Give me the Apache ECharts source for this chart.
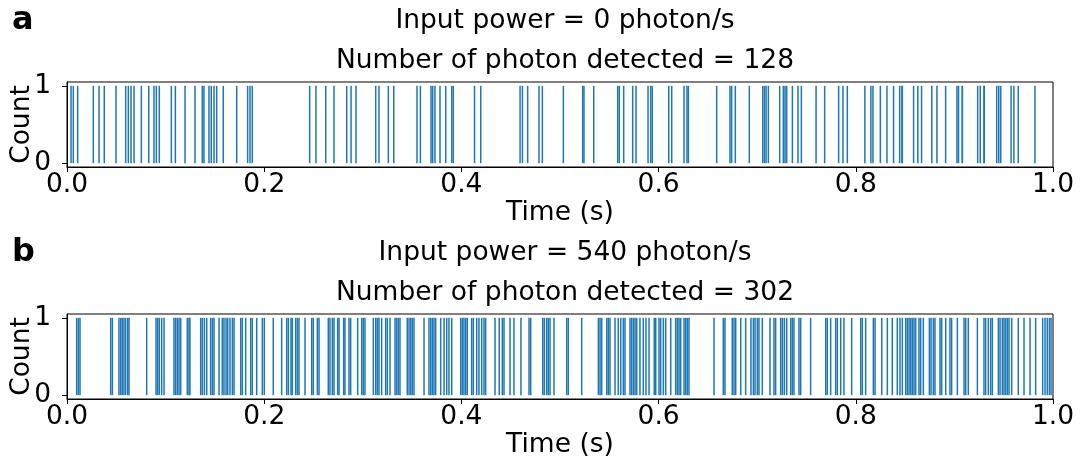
<!DOCTYPE html>
<html>
<head>
<meta charset="utf-8">
<script src="https://cdn.jsdelivr.net/npm/echarts@6/dist/echarts.min.js"></script>
<style>
  html, body { margin: 0; padding: 0; background: #fff; }
  #chart { width: 1083px; height: 464px; }
</style>
</head>
<body>
<div id="chart"></div>
<script>
// photon arrival times (s)
var timesA = [
    0.0041, 0.0064, 0.0108, 0.0267, 0.0325, 0.0378, 0.0497, 0.0595, 0.0622, 0.0649,
    0.0680, 0.0754, 0.0829, 0.0882, 0.0906, 0.0936, 0.1058, 0.1099, 0.1197, 0.1298,
    0.1372, 0.1389, 0.1440, 0.1463, 0.1491, 0.1518, 0.1585, 0.1721, 0.1832, 0.1856,
    0.1879, 0.2461, 0.2525, 0.2624, 0.2708, 0.2837, 0.2881, 0.2931, 0.3131, 0.3164,
    0.3259, 0.3314, 0.3550, 0.3584, 0.3692, 0.3709, 0.3732, 0.3783, 0.3841, 0.3902,
    0.3918, 0.4133, 0.4196, 0.4595, 0.4619, 0.4672, 0.4787, 0.4821, 0.5034, 0.5230,
    0.5243, 0.5342, 0.5585, 0.5601, 0.5646, 0.5737, 0.5771, 0.5893, 0.5920, 0.5936,
    0.6103, 0.6133, 0.6258, 0.6288, 0.6302, 0.6589, 0.6724, 0.6741, 0.6778, 0.6920,
    0.7056, 0.7073, 0.7090, 0.7113, 0.7228, 0.7265, 0.7282, 0.7299, 0.7357, 0.7414,
    0.7448, 0.7597, 0.7684, 0.7826, 0.7870, 0.7914, 0.8092, 0.8153, 0.8174, 0.8249,
    0.8316, 0.8383, 0.8445, 0.8468, 0.8472, 0.8586, 0.8629, 0.8667, 0.8771, 0.8823,
    0.8911, 0.9026, 0.9042, 0.9080, 0.9081, 0.9236, 0.9262, 0.9300, 0.9303, 0.9429,
    0.9450, 0.9470, 0.9575, 0.9603, 0.9648, 0.9817
];

var timesB = [
    0.0098, 0.0115, 0.0132, 0.0443, 0.0460, 0.0527, 0.0545, 0.0561, 0.0578, 0.0595,
    0.0616, 0.0629, 0.0808, 0.0903, 0.0920, 0.0936, 0.0960, 0.0984, 0.1085, 0.1102,
    0.1119, 0.1136, 0.1153, 0.1220, 0.1237, 0.1247, 0.1356, 0.1372, 0.1393, 0.1417,
    0.1457, 0.1474, 0.1491, 0.1542, 0.1575, 0.1592, 0.1613, 0.1630, 0.1653, 0.1677,
    0.1694, 0.1762, 0.1778, 0.1812, 0.1863, 0.1879, 0.1924, 0.1981, 0.2001, 0.2092,
    0.2177, 0.2228, 0.2245, 0.2272, 0.2285, 0.2319, 0.2336, 0.2353, 0.2414, 0.2482,
    0.2498, 0.2539, 0.2556, 0.2650, 0.2667, 0.2691, 0.2708, 0.2745, 0.2759, 0.2806,
    0.2819, 0.2860, 0.2877, 0.2948, 0.2989, 0.3005, 0.3022, 0.3107, 0.3131, 0.3147,
    0.3164, 0.3191, 0.3232, 0.3249, 0.3276, 0.3327, 0.3344, 0.3360, 0.3377, 0.3451,
    0.3469, 0.3486, 0.3502, 0.3519, 0.3621, 0.3671, 0.3689, 0.3705, 0.3722, 0.3739,
    0.3790, 0.3824, 0.3851, 0.3874, 0.3902, 0.3993, 0.4009, 0.4026, 0.4044, 0.4060,
    0.4104, 0.4121, 0.4155, 0.4178, 0.4206, 0.4229, 0.4246, 0.4341, 0.4384, 0.4415,
    0.4432, 0.4493, 0.4533, 0.4604, 0.4686, 0.4703, 0.4825, 0.4841, 0.4865, 0.4881,
    0.4899, 0.4939, 0.5068, 0.5084, 0.5220, 0.5389, 0.5406, 0.5423, 0.5474, 0.5490,
    0.5507, 0.5558, 0.5591, 0.5616, 0.5642, 0.5659, 0.5710, 0.5727, 0.5744, 0.5761,
    0.5778, 0.5811, 0.5845, 0.5872, 0.5903, 0.5956, 0.5971, 0.6004, 0.6021, 0.6048,
    0.6072, 0.6123, 0.6173, 0.6190, 0.6207, 0.6224, 0.6258, 0.6275, 0.6291, 0.6308,
    0.6562, 0.6656, 0.6673, 0.6747, 0.6765, 0.6782, 0.6833, 0.6883, 0.6937, 0.6961,
    0.6978, 0.7001, 0.7018, 0.7052, 0.7130, 0.7170, 0.7187, 0.7238, 0.7255, 0.7275,
    0.7299, 0.7340, 0.7356, 0.7373, 0.7424, 0.7441, 0.7542, 0.7695, 0.7711, 0.7745,
    0.7796, 0.7813, 0.7847, 0.7880, 0.7958, 0.8050, 0.8066, 0.8100, 0.8178, 0.8195,
    0.8263, 0.8320, 0.8370, 0.8421, 0.8448, 0.8472, 0.8506, 0.8523, 0.8540, 0.8557,
    0.8573, 0.8590, 0.8607, 0.8641, 0.8658, 0.8685, 0.8746, 0.8763, 0.8786, 0.8803,
    0.8854, 0.8871, 0.8912, 0.8955, 0.8972, 0.9030, 0.9098, 0.9115, 0.9141, 0.9233,
    0.9300, 0.9317, 0.9344, 0.9368, 0.9385, 0.9446, 0.9463, 0.9486, 0.9503, 0.9520,
    0.9537, 0.9554, 0.9581, 0.9648, 0.9706, 0.9767, 0.9824, 0.9895, 0.9919, 0.9942,
    0.9963, 0.9980
];

var panelTitles = [
    ['Input power = 0 photon/s', 'Number of photon detected = 128'],
    ['Input power = 540 photon/s', 'Number of photon detected = 302']
];
var panelLetters = ['a', 'b'];
var xTicks = [0, 0.2, 0.4, 0.6, 0.8, 1.0];
var yTicks = [0, 1];

var font = 'DejaVu Sans';
var fs = 26.5;
var gridTops = [82, 314];
var gridH = 85;

var chart = echarts.init(document.getElementById('chart'));

function eventSeries(idx, times) {
    return {
        type: 'custom',
        xAxisIndex: idx,
        yAxisIndex: idx,
        silent: true,
        data: times.map(function (t) { return [t]; }),
        renderItem: function (params, api) {
            var p0 = api.coord([api.value(0), 0]);
            var p1 = api.coord([api.value(0), 1]);
            return {
                type: 'line',
                shape: { x1: p0[0], y1: p0[1], x2: p1[0], y2: p1[1] },
                style: { stroke: '#1f77b4', lineWidth: 1.5 }
            };
        }
    };
}

var grids = [], xAxes = [], yAxes = [], titles = [], series = [];
[timesA, timesB].forEach(function (times, i) {
    grids.push({
        left: 67, right: 30, top: gridTops[i], height: gridH,
        outerBoundsMode: 'none', containLabel: false,
        show: true, borderColor: '#000', borderWidth: 1, backgroundColor: '#fff'
    });
    xAxes.push({
        type: 'value', gridIndex: i, min: 0, max: 1, interval: 0.2,
        name: 'Time (s)', nameLocation: 'middle', nameGap: 33, nameMoveOverlap: false,
        nameTextStyle: { fontFamily: font, fontSize: fs, color: '#000' },
        axisLine: { show: true, onZero: false, lineStyle: { color: '#000', width: 1 } },
        axisTick: { show: true, length: 5, lineStyle: { color: '#000' } },
        axisLabel: {
            fontFamily: font, fontSize: fs, color: '#000', margin: 5,
            customValues: xTicks,
            formatter: function (v) { return v.toFixed(1); }
        },
        splitLine: { show: false }
    });
    yAxes.push({
        type: 'value', gridIndex: i, min: -0.05, max: 1.05,
        name: 'Count', nameLocation: 'middle', nameGap: 31, nameMoveOverlap: false,
        nameTextStyle: { fontFamily: font, fontSize: fs, color: '#000' },
        axisLine: { show: true, onZero: false, lineStyle: { color: '#000', width: 1 } },
        axisTick: { show: true, length: 5, customValues: yTicks, lineStyle: { color: '#000' } },
        axisLabel: { fontFamily: font, fontSize: fs, color: '#000', margin: 16, customValues: yTicks },
        splitLine: { show: false }
    });
    series.push(eventSeries(i, times));

    var top = gridTops[i];
    var txt = { fontFamily: font, fontSize: fs, fontWeight: 'normal', color: '#000' };
    titles.push({
        text: panelTitles[i][0], left: 560, top: top - 66,
        textAlign: 'center', textVerticalAlign: 'middle', textStyle: txt
    });
    titles.push({
        text: panelTitles[i][1], left: 560, top: top - 26,
        textAlign: 'center', textVerticalAlign: 'middle', textStyle: txt
    });
    titles.push({
        text: panelLetters[i], left: 7, top: top - 66,
        textVerticalAlign: 'middle',
        textStyle: { fontFamily: font, fontSize: 32, fontWeight: 'bold', color: '#000' }
    });
});

chart.setOption({
    animation: false,
    backgroundColor: '#fff',
    title: titles,
    grid: grids,
    xAxis: xAxes,
    yAxis: yAxes,
    series: series
});
</script>
</body>
</html>
